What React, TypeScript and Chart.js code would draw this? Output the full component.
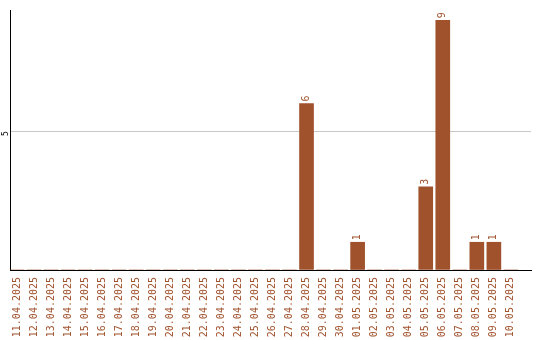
import React, { useEffect, useRef } from "react";
import { Chart, registerables } from "chart.js";

Chart.register(...registerables);

// Daily counts, 11.04.2025 – 10.05.2025
const dates = [
  "11.04.2025", "12.04.2025", "13.04.2025", "14.04.2025", "15.04.2025",
  "16.04.2025", "17.04.2025", "18.04.2025", "19.04.2025", "20.04.2025",
  "21.04.2025", "22.04.2025", "23.04.2025", "24.04.2025", "25.04.2025",
  "26.04.2025", "27.04.2025", "28.04.2025", "29.04.2025", "30.04.2025",
  "01.05.2025", "02.05.2025", "03.05.2025", "04.05.2025", "05.05.2025",
  "06.05.2025", "07.05.2025", "08.05.2025", "09.05.2025", "10.05.2025",
];
const counts = [
  0, 0, 0, 0, 0, 0, 0, 0, 0, 0,
  0, 0, 0, 0, 0, 0, 0, 6, 0, 0,
  1, 0, 0, 0, 3, 9, 0, 1, 1, 0,
];
const yTickStep = 5;
const yMax = 9.37;

const BAR_COLOR = "#A0522D";
const FONT = "'DejaVu Sans Mono', monospace";

// Writes each non-zero value above its bar, rotated like the axis labels
const valueLabels = {
  id: "valueLabels",
  afterDatasetsDraw(chart: any) {
    const { ctx } = chart;
    const meta = chart.getDatasetMeta(0);
    ctx.save();
    ctx.fillStyle = BAR_COLOR;
    ctx.font = `10px ${FONT}`;
    ctx.textAlign = "left";
    ctx.textBaseline = "middle";
    meta.data.forEach((bar: any, i: number) => {
      const v = counts[i];
      if (!v) return;
      ctx.save();
      ctx.translate(bar.x, bar.y - 2);
      ctx.rotate(-Math.PI / 2);
      ctx.fillText(String(v), 0, 0);
      ctx.restore();
    });
    ctx.restore();
  },
};

export default function App() {
  const canvasRef = useRef<HTMLCanvasElement | null>(null);

  useEffect(() => {
    const canvas = canvasRef.current;
    if (!canvas) return;
    const chart = new Chart(canvas, {
      type: "bar",
      data: {
        datasets: [
          {
            data: counts.map((v, i) => ({ x: i, y: v })),
            backgroundColor: BAR_COLOR,
            borderWidth: 0,
            barThickness: 14,
          },
        ],
      },
      options: {
        responsive: false,
        animation: false,
        layout: { padding: { top: 10, right: 9, left: 0, bottom: 0 } },
        plugins: {
          legend: { display: false },
          tooltip: { enabled: false },
        },
        scales: {
          x: {
            type: "linear",
            min: -0.41,
            max: 30.18,
            offset: false,
            grid: { display: false, drawTicks: false },
            border: { display: true, color: "#000", width: 1 },
            ticks: {
              stepSize: 1,
              includeBounds: false,
              autoSkip: false,
              minRotation: 90,
              maxRotation: 90,
              padding: 7,
              color: BAR_COLOR,
              font: { family: FONT, size: 10 },
              callback: (v: any) => {
                const n = Number(v);
                return Number.isInteger(n) && dates[n] ? dates[n] : undefined;
              },
            },
            afterFit: (scale: any) => {
              scale.height = 70;
            },
          },
          y: {
            min: 0,
            max: yMax,
            grid: { color: "#c8c8c8", drawTicks: false },
            border: { display: true, color: "#000", width: 1 },
            ticks: {
              stepSize: yTickStep,
              includeBounds: false,
              minRotation: 90,
              maxRotation: 90,
              padding: 4,
              color: "#000",
              font: { family: FONT, size: 8 },
              callback: (v: any) => (Number(v) === 0 ? "" : String(v)),
            },
            afterFit: (scale: any) => {
              scale.width = 10;
            },
          },
        },
      },
      plugins: [valueLabels],
    });
    return () => chart.destroy();
  }, []);

  return (
    <div style={{ position: "absolute", left: 0, top: 0, width: 540, height: 340 }}>
      <canvas ref={canvasRef} width={540} height={340} style={{ display: "block" }} />
    </div>
  );
}
